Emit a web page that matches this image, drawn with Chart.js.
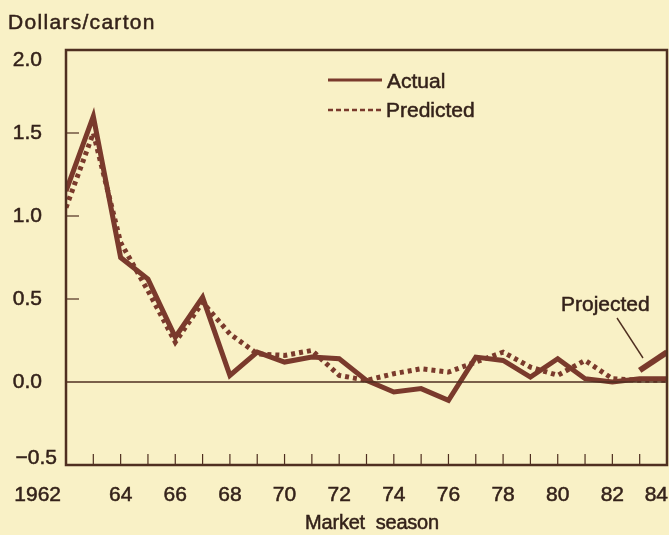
<!DOCTYPE html>
<html>
<head>
<meta charset="utf-8">
<script src="https://cdn.jsdelivr.net/npm/chart.js@4.4.0/dist/chart.umd.min.js"></script>
<style>
    html, body { margin: 0; padding: 0; background: #f9f1c6; }
    #wrap { width: 669px; height: 535px; position: relative; }
</style>
</head>
<body>
<div id="wrap"><canvas id="chart" width="669" height="535"></canvas></div>
<script>
// Market seasons 1962-1984
const years = [1962, 1963, 1964, 1965, 1966, 1967, 1968, 1969, 1970, 1971, 1972, 1973,
    1974, 1975, 1976, 1977, 1978, 1979, 1980, 1981, 1982, 1983, 1984];
const actual = [1.15, 1.60, 0.75, 0.62, 0.27, 0.51, 0.04, 0.18, 0.12, 0.15, 0.14, 0.01,
    -0.06, -0.04, -0.11, 0.15, 0.13, 0.03, 0.14, 0.02, 0.00, 0.02, 0.02];
const predicted = [1.05, 1.50, 0.84, 0.55, 0.24, 0.48, 0.29, 0.17, 0.16, 0.19, 0.04, 0.01,
    0.05, 0.08, 0.06, 0.12, 0.18, 0.09, 0.04, 0.13, 0.02, 0.01, 0.01];
const projectedYears = [1983, 1984];
const projected = [0.07, 0.18];

const yTicks = [2.0, 1.5, 1.0, 0.5, 0.0, -0.5];
const yTickLabels = ['2.0', '1.5', '1.0', '0.5', '0.0', '\u22120.5'];
const xLabelYears = [1962, 1964, 1966, 1968, 1970, 1972, 1974, 1976, 1978, 1980, 1982, 1984];
const xTickLabels = ['1962', '64', '66', '68', '70', '72', '74', '76', '78', '80', '82', '84'];

const LINE = '#7a3a2c';
const AXIS = '#4f2f20';
const TEXT = '#34221a';
const FONT = '"Liberation Sans", Arial, sans-serif';

const toPoints = (xs, ys) => xs.map((x, i) => ({ x: x, y: ys[i] }));

// text with a hairline stroke so it reads as heavy as the printed original
function heavyText(ctx, str, x, y) {
    ctx.fillText(str, x, y);
    ctx.strokeText(str, x, y);
}

const framePlugin = {
    id: 'frame',
    afterDatasetsDraw(chart) {
        const { ctx, chartArea: a, scales: { x, y } } = chart;
        ctx.save();

        // zero line
        ctx.strokeStyle = AXIS;
        ctx.lineWidth = 1.5;
        ctx.beginPath();
        ctx.moveTo(a.left, y.getPixelForValue(0));
        ctx.lineTo(a.right, y.getPixelForValue(0));
        ctx.stroke();

        // inward ticks
        ctx.lineWidth = 1.2;
        yTicks.forEach(v => {
            if (v <= -0.5 || v >= 2.0 || v === 0) return;
            const py = y.getPixelForValue(v);
            ctx.beginPath();
            ctx.moveTo(a.left, py);
            ctx.lineTo(a.left + 13, py);
            ctx.stroke();
        });
        years.forEach(yr => {
            if (yr === years[0] || yr === years[years.length - 1]) return;
            const px = x.getPixelForValue(yr);
            ctx.beginPath();
            ctx.moveTo(px, a.bottom);
            ctx.lineTo(px, a.bottom - 11);
            ctx.stroke();
        });

        // frame
        ctx.lineWidth = 2.5;
        ctx.strokeRect(a.left, a.top, a.right - a.left, a.bottom - a.top);

        // text
        ctx.fillStyle = TEXT;
        ctx.strokeStyle = TEXT;
        ctx.lineWidth = 0.5;
        ctx.font = '21px ' + FONT;
        ctx.textBaseline = 'middle';
        ctx.textAlign = 'right';
        yTicks.forEach((v, i) => {
            let py = y.getPixelForValue(v);
            py = Math.min(Math.max(py, a.top + 10), a.bottom - 7);
            const right = v < 0 ? a.left - 9 : a.left - 24;
            heavyText(ctx, yTickLabels[i], right, py);
        });

        xLabelYears.forEach((yr, i) => {
            const px = x.getPixelForValue(yr);
            if (i === 0) {
                ctx.textAlign = 'right';
                heavyText(ctx, xTickLabels[i], px - 5, 495);
            } else if (i === xLabelYears.length - 1) {
                ctx.textAlign = 'right';
                heavyText(ctx, xTickLabels[i], px + 1, 495);
            } else {
                ctx.textAlign = 'center';
                heavyText(ctx, xTickLabels[i], px, 495);
            }
        });

        ctx.font = '20px ' + FONT;
        ctx.textAlign = 'center';
        ctx.letterSpacing = '-0.2px';
        heavyText(ctx, 'Market  season', 372, 523);
        ctx.textAlign = 'left';
        ctx.font = '21px ' + FONT;
        ctx.letterSpacing = '1.3px';
        heavyText(ctx, 'Dollars/carton', 8, 23);
        ctx.letterSpacing = '0px';

        // legend
        ctx.strokeStyle = LINE;
        ctx.lineWidth = 3;
        ctx.beginPath();
        ctx.moveTo(328, 80);
        ctx.lineTo(382, 80);
        ctx.stroke();
        ctx.setLineDash([5, 3]);
        ctx.lineWidth = 2.5;
        ctx.beginPath();
        ctx.moveTo(328, 110);
        ctx.lineTo(384, 110);
        ctx.stroke();
        ctx.setLineDash([]);
        ctx.strokeStyle = TEXT;
        ctx.lineWidth = 0.5;
        ctx.font = '21px ' + FONT;
        heavyText(ctx, 'Actual', 387, 82);
        heavyText(ctx, 'Predicted', 386, 111);

        // projected note
        heavyText(ctx, 'Projected', 561, 305);
        ctx.strokeStyle = AXIS;
        ctx.lineWidth = 1.4;
        ctx.beginPath();
        ctx.moveTo(617, 318);
        ctx.lineTo(643, 358);
        ctx.stroke();

        ctx.restore();
    }
};

new Chart(document.getElementById('chart'), {
    type: 'line',
    data: {
        datasets: [{
            label: 'Predicted',
            data: toPoints(years, predicted),
            borderColor: LINE,
            borderWidth: 5,
            borderDash: [4, 4],
            pointRadius: 0,
            tension: 0
        }, {
            label: 'Actual',
            data: toPoints(years, actual),
            borderColor: LINE,
            borderWidth: 5,
            pointRadius: 0,
            tension: 0
        }, {
            label: 'Projected',
            data: toPoints(projectedYears, projected),
            borderColor: LINE,
            borderWidth: 6,
            pointRadius: 0,
            tension: 0
        }]
    },
    options: {
        responsive: false,
        animation: false,
        layout: { padding: { left: 66, top: 50, right: 2, bottom: 70 } },
        plugins: { legend: { display: false }, tooltip: { enabled: false } },
        scales: {
            x: { type: 'linear', min: 1962, max: 1984, display: false },
            y: { min: -0.5, max: 2.0, display: false }
        }
    },
    plugins: [framePlugin]
});
</script>
</body>
</html>
